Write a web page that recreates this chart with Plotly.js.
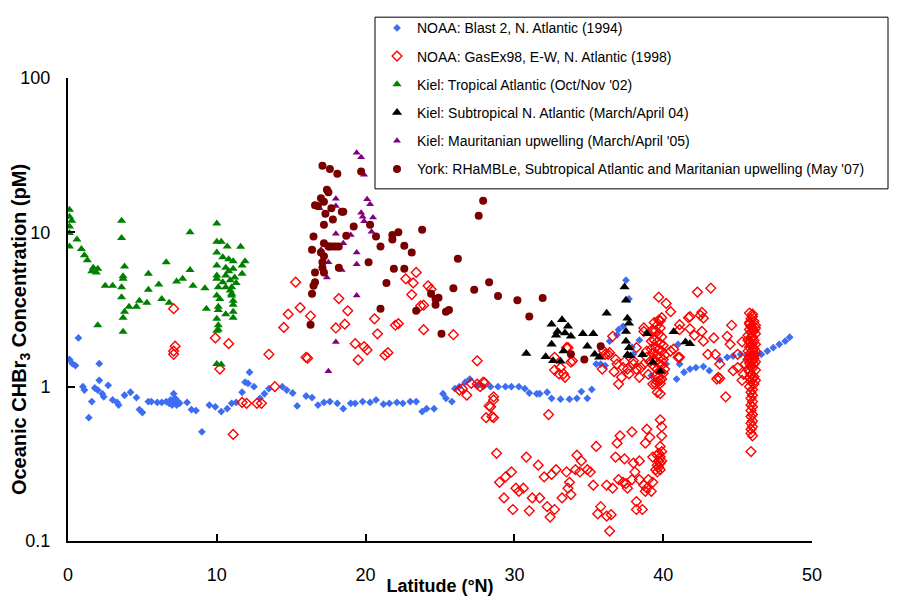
<!DOCTYPE html>
<html>
<head>
<meta charset="utf-8">
<script src="https://cdn.plot.ly/plotly-3.0.1.min.js"></script>
<style>html,body{margin:0;padding:0;background:#fff;}#chart{width:911px;height:596px;}</style>
</head>
<body>
<div id="chart"></div>
<script>
// [latitude (°N), CHBr3 (pM)]
const blast2_1994 = [[0.1,1.5],[0.3,1.41],[0.5,1.37],[0.7,2.07],[1.0,1.0],[1.1,0.95],[1.4,0.63],[1.6,0.8],[1.8,0.98],[2.1,1.41],[2.1,1.1],[2.0,0.95],[2.3,0.9],[2.4,0.86],[2.7,1.02],[3.0,0.82],[3.3,0.79],[3.4,0.76],[3.8,0.88],[4.2,0.92],[4.6,0.85],[4.8,0.71],[5.0,0.68],[5.4,0.8],[5.6,0.8],[6.0,0.79],[6.3,0.79],[6.6,0.8],[6.8,0.78],[6.9,0.82],[7.0,0.76],[7.1,0.9],[7.1,0.8],[7.2,0.84],[7.3,0.76],[7.4,0.8],[7.5,0.78],[8.0,0.79],[8.3,0.71],[8.6,0.7],[9.0,0.51],[9.5,0.76],[9.9,0.74],[10.3,0.69],[10.7,0.72],[11.0,0.78],[11.3,0.79],[11.7,0.92],[11.9,1.07],[12.1,1.05],[12.2,1.24],[12.5,1.0],[12.9,0.84],[13.2,0.9],[13.5,0.97],[14.4,1.0],[14.7,0.95],[15.1,0.91],[15.4,0.75],[16.0,0.87],[16.4,0.85],[16.8,0.76],[17.2,0.79],[17.6,0.8],[18.1,0.78],[18.5,0.72],[19.0,0.78],[19.3,0.78],[19.8,0.8],[20.3,0.79],[20.7,0.82],[21.2,0.77],[21.6,0.78],[22.1,0.79],[22.5,0.78],[23.0,0.8],[23.4,0.8],[23.8,0.69],[24.1,0.72],[24.6,0.72],[25.2,0.9],[25.4,0.84],[25.8,0.8],[26.0,0.97],[26.3,1.0],[26.7,1.07],[27.0,1.12],[27.5,1.02],[27.9,1.0],[28.4,1.0],[28.9,1.0],[29.4,1.0],[29.8,1.0],[30.3,1.0],[30.7,0.97],[31.0,0.91],[31.5,0.9],[31.7,0.9],[32.2,0.92],[32.5,0.84],[33.1,0.83],[33.7,0.83],[34.2,0.84],[34.5,0.93],[34.9,0.84],[35.2,0.96],[35.5,1.4],[35.8,1.4],[36.1,1.37],[36.4,1.97],[36.9,2.17],[37.0,2.34],[37.3,2.46],[37.5,4.9],[37.7,3.7],[37.9,1.8],[38.0,1.62],[38.4,2.0],[39.2,1.18],[39.8,1.27],[40.2,1.4],[40.9,1.12],[41.0,1.88],[41.1,1.4],[41.4,1.24],[41.8,1.3],[42.2,1.33],[42.7,1.35],[43.1,1.27],[43.8,1.49],[44.3,1.55],[44.7,1.58],[45.2,1.62],[45.6,1.6],[46.0,1.6],[46.3,1.62],[46.6,1.62],[47.0,1.7],[47.4,1.79],[47.8,1.88],[48.2,1.97],[48.5,2.09]];

const gasex98_1998 = [[7.1,3.2],[7.2,1.83],[7.1,1.7],[7.1,1.62],[9.9,2.07],[10.8,1.9],[10.2,1.3],[11.1,0.49],[13.5,1.62],[14.5,2.42],[16.0,1.55],[11.7,0.79],[12.0,0.78],[12.7,0.78],[13.0,0.78],[13.9,1.0],
[15.3,4.75],[15.6,3.25],[14.8,2.95],[16.3,2.87],[16.1,1.53],[18.2,3.72],[18.8,3.1],[18.0,2.4],[18.6,2.54],[19.3,1.9],[19.9,1.82],[20.1,1.73],[19.5,1.49],[20.8,2.2],[20.6,2.75],[21.3,1.6],[21.5,1.66],[22.0,2.5],[22.2,2.56],[22.7,5.0],[23.4,5.5],[23.2,4.7],[23.1,3.95],[24.2,4.5],[24.4,4.27],[23.7,3.34],[23.9,3.37],[23.9,2.34],[25.9,2.17],[27.5,1.47],
[26.3,0.95],[26.5,0.97],[26.8,0.88],[27.1,1.05],[27.5,1.04],[27.7,1.0],[27.9,1.07],[28.0,1.06],[28.6,0.86],[28.4,0.74],[28.3,0.75],[28.1,0.63],[28.5,0.64],[28.6,0.63],[28.6,0.82],[28.8,0.37],[30.8,0.35],[32.3,0.66],
[29.0,0.24],[29.4,0.26],[29.8,0.28],[29.3,0.19],[29.9,0.16],[30.1,0.22],[30.3,0.21],[30.6,0.22],[31.6,0.31],[31.0,0.157],[31.2,0.19],[31.7,0.19],[32.0,0.26],[32.2,0.167],[32.4,0.143],[32.7,0.16],[32.5,0.27],[32.8,0.29],[33.2,0.19],[33.5,0.28],[33.6,0.22],[33.8,0.2],[33.7,0.24],[34.1,0.29],[34.2,0.36],[34.4,0.28],[34.5,0.33],[34.9,0.29],[35.1,0.28],[35.3,0.23],[35.5,0.41],[35.8,0.167],[35.6,0.15],[36.2,0.145],[36.5,0.148],[36.4,0.116],[36.2,0.23],[36.6,0.22],[36.8,0.35],[36.9,0.43],[37.1,0.48],[37.4,0.34],[37.0,0.25],[37.3,0.24],[37.5,0.235],[37.6,0.22],[37.9,0.25],[38.1,0.28],[38.0,0.32],[38.4,0.33],[38.2,0.18],[38.6,0.16],[38.8,0.21],[38.7,0.23],[38.4,0.25],[37.9,0.51],[38.9,0.53],[39.1,0.47],[38.8,0.43],[39.3,0.35],[39.7,0.37],[39.5,0.29],[39.6,0.28],[39.8,0.29],[39.3,0.24],[39.0,0.25],[39.8,0.61],[39.9,0.55],[39.9,0.48],[39.8,0.41],[39.9,0.33],[39.2,0.21],[38.9,0.22],[38.2,0.16],[39.6,0.36],[39.7,0.33],[39.8,0.35],[39.6,0.31],[39.7,0.3],[39.9,0.38],[39.8,0.32],
[32.7,1.28],[33.0,1.21],[33.4,1.15],[33.6,1.79],[33.8,1.44],[32.7,1.55],[33.1,1.33],[33.3,1.21],[33.9,1.47],[33.5,1.79],
[36.6,2.12],[36.4,1.66],[36.9,1.4],[37.0,1.04],[37.3,1.33],[37.7,1.21],[38.0,1.47],[38.2,1.3],[38.4,1.15],[38.7,1.4],[38.7,2.4],[39.3,2.34],[39.2,1.97],[38.9,1.7],[36.0,1.7],[36.3,1.62],[36.8,1.5],[38.2,1.79],[38.0,1.4],[38.5,1.33],[38.9,1.55],[38.7,2.28],[36.1,1.62],[35.9,1.3],[36.7,1.25],[37.2,1.15],[37.6,1.3],[37.4,1.45],
[39.7,3.8],[40.2,3.46],[40.5,3.06],[39.5,1.04],[39.6,0.92],[39.8,0.9],[39.3,1.04],
[42.3,4.1],[43.2,4.35],[41.8,2.84],[42.7,2.78],[42.5,2.9],[40.7,1.75],[41.1,2.34],[41.1,1.55],[42.6,2.28],[42.7,1.97],[43.0,1.62],[43.5,1.62],[43.7,1.15],
[39.8,2.67],[41.7,2.8],[42.6,3.03],[41.1,2.52],[41.8,2.37],[42.1,2.15],[43.4,2.07],[44.6,2.5],[44.3,2.12],[44.5,1.88],[45.0,1.62],[43.8,1.4],[43.6,1.12],[43.8,1.13],[44.2,0.86],[45.0,1.33],[44.7,1.27],[45.3,1.1],[40.5,1.7],[41.0,1.55],[39.3,2.28],[39.8,1.1],[45.3,1.95],[45.5,1.4],[45.4,1.2],
[39.4,2.6],[39.6,2.5],[39.8,2.4],[39.5,2.3],[39.7,2.2],[39.9,2.1],[39.4,2.0],[39.6,1.95],[39.8,1.9],[40.0,1.85],[39.5,1.8],[39.7,1.75],[39.9,1.7],[39.3,1.65],[39.6,1.6],[39.8,1.55],[40.0,1.5],[39.5,1.45],[39.7,1.42],[39.9,1.38],[39.4,1.35],[39.6,1.3],[39.8,1.26],[40.0,1.22],[39.5,1.18],[39.7,1.15],[39.9,1.12],[39.6,1.08],[39.8,1.05],[39.4,1.5],[39.2,1.75],[39.1,1.45],[40.1,1.6],[40.1,1.3],[39.0,1.2],[39.7,2.7],[39.9,2.8],
[45.8,3.0],[46.0,2.85],[45.9,2.75],[46.1,2.65],[45.8,2.55],[46.2,2.5],[45.9,2.45],[46.0,2.4],[45.8,2.35],[46.1,2.3],[45.9,2.25],[46.2,2.2],[45.7,2.15],[46.0,2.1],[45.9,2.05],[46.1,2.0],[45.8,1.95],[46.0,1.9],[46.2,1.88],[45.9,1.85],[45.8,1.8],[46.1,1.76],[46.0,1.72],[45.7,1.7],[45.9,1.66],[46.2,1.62],[46.0,1.6],[45.8,1.56],[46.1,1.52],[45.9,1.5],[46.0,1.46],[45.8,1.42],[46.1,1.4],[45.9,1.36],[46.0,1.32],[46.2,1.28],[45.8,1.25],[45.9,1.2],[46.1,1.16],[46.0,1.12],[45.9,1.08],[46.1,1.04],[45.8,1.0],[46.0,0.96],[45.9,0.92],[46.0,0.88],[45.9,0.84],[46.0,0.8],[45.9,0.76],[46.0,0.74],[45.9,0.7],[46.0,0.66],[45.9,0.64],[46.0,0.6],[45.9,0.58],[46.0,0.55],[45.9,0.53],[45.9,0.5],[46.0,0.48],[45.9,0.38],[46.0,2.95],[45.8,2.6],[46.2,2.4],[45.7,2.0],[46.2,1.7],[45.7,1.5],[46.2,1.45],[45.7,1.3],[46.2,1.1],[45.8,1.15]];

const kielTropical_02 = [[0.1,14],[0.1,12.6],[0.25,11.9],[0.1,10.9],[0.1,9.9],[0.1,8.1],[0.6,9.0],[0.9,7.8],[1.1,7.1],[1.3,6.6],[1.7,5.9],[1.6,5.6],[2.0,5.8],[1.9,5.5],[2.5,4.5],[3.0,4.5],[3.6,11.9],[3.6,9.2],[3.8,6.0],[3.7,5.2],[3.7,5.0],[3.6,4.4],[3.6,3.8],[3.8,3.06],[3.7,2.8],[3.7,2.27],[2.0,2.5],[4.1,3.3],[4.6,3.3],[4.8,3.6],[5.3,3.5],[5.4,4.25],[5.4,5.4],[6.1,4.6],[6.3,3.7],[6.6,6.4],[6.8,3.5],[7.3,4.8],[7.7,5.0],[8.2,5.7],[8.4,4.5],[8.2,10.0],[9.2,4.35],[9.3,3.2],[10.0,11.4],[10.0,8.7],[10.3,8.7],[10.0,7.4],[10.7,8.1],[11.6,8.05],[10.4,6.9],[10.8,6.7],[11.1,6.5],[11.9,6.5],[10.0,6.1],[10.6,5.9],[11.1,5.8],[11.7,6.1],[10.0,5.25],[10.6,5.25],[11.7,5.4],[10.0,5.0],[10.4,4.75],[10.9,4.9],[11.3,4.7],[10.1,4.4],[10.6,4.4],[11.0,4.4],[10.0,3.9],[10.2,3.7],[11.0,4.0],[11.1,3.6],[10.1,3.3],[10.1,3.14],[11.1,3.4],[10.6,2.95],[11.1,3.06],[11.1,2.8],[10.0,2.75],[10.1,2.5],[10.1,2.35],[10.0,2.3],[10.0,1.4],[10.3,1.39],[10.8,5.6],[11.2,5.1],[10.9,4.2],[11.0,3.9]];

const kielSubtropical_04 = [[30.8,1.64],[32.5,2.54],[33.2,2.71],[33.6,2.46],[32.9,2.28],[32.8,2.15],[33.4,2.23],[33.8,2.12],[32.5,1.88],[33.3,1.7],[32.1,1.56],[32.6,1.47],[33.1,1.46],[34.6,2.2],[35.3,2.2],[34.9,1.83],[35.4,1.62],[35.7,1.55],[36.2,2.99],[37.4,4.42],[37.5,3.63],[37.6,2.78],[37.7,2.58],[37.5,2.28],[37.5,1.97],[37.7,1.79],[37.6,1.61],[37.8,1.58],[38.6,1.61],[38.9,2.2],[39.3,1.44],[39.8,1.26],[40.7,2.27],[41.5,1.95],[41.8,1.9]];

const kielMauritanian_05 = [[19.4,32.8],[19.7,30.6],[19.9,23.6],[18.0,16.5],[18.0,14.8],[16.9,14.3],[20.1,16.4],[20.3,15.2],[19.7,13.4],[19.8,12.6],[20.5,12.5],[19.9,11.8],[20.4,10.1],[18.0,9.8],[19.0,9.6],[18.5,8.5],[17.0,7.7],[19.4,7.4],[17.5,6.4],[19.4,6.2],[18.4,5.7],[17.4,5.1],[19.4,3.9],[18.0,1.95],[17.5,1.26]];

const yorkRhamble_07 = [[17.1,27],[17.6,25.7],[18.1,24],[19.7,24.8],[17.4,18.9],[17.5,18.2],[17.0,16.6],[17.2,15.8],[16.6,15],[16.8,14.8],[17.7,14.3],[17.3,13.2],[18.4,13.6],[18.5,13.6],[17.8,12.1],[17.2,11.2],[19.2,10.9],[18.7,9.5],[20.3,11.2],[20.7,9.4],[21.8,9.6],[22.2,10.0],[21.8,9.0],[21.0,8.1],[23.8,10.4],[16.5,9.4],[16.4,7.7],[17.2,8.5],[17.5,8.1],[17.6,8.1],[17.8,8.1],[18.0,8.1],[18.2,8.1],[17.0,7.4],[17.2,7.0],[17.1,6.4],[17.1,5.9],[17.2,5.5],[16.6,5.5],[16.6,4.75],[16.5,4.5],[16.4,4.0],[18.2,5.9],[20.2,6.4],[22.6,8.2],[23.1,7.4],[26.2,6.75],[21.9,5.8],[22.6,5.8],[21.4,4.7],[24.4,4.0],[24.7,3.7],[24.9,3.77],[24.7,3.4],[25.9,4.35],[27.3,4.25],[28.3,4.75],[27.9,16],[27.6,12.8],[21.0,3.2],[23.4,3.1],[25.4,3.06],[25.6,3.14],[25.1,2.2],[16.3,2.52],[28.9,3.87],[30.2,3.63],[31.9,3.76],[31.0,2.85],[33.8,1.62],[34.7,1.5],[35.8,1.83]];

const seriesNames = [
  "NOAA: Blast 2, N. Atlantic (1994)",
  "NOAA: GasEx98, E-W, N. Atlantic (1998)",
  "Kiel: Tropical Atlantic (Oct/Nov '02)",
  "Kiel: Subtropical N. Atlantic (March/April 04)",
  "Kiel: Mauritanian upwelling (March/April '05)",
  "York: RHaMBLe, Subtropical Atlantic and Maritanian upwelling (May '07)"
];
const xTicks = [0, 10, 20, 30, 40, 50];
const yTicks = [0.1, 1, 10, 100];
const yTickText = ["0.1", "1", "10", "100"];
const xTitle = "Latitude (°N)";
const yTitle = "Oceanic CHBr<sub>3</sub> Concentration (pM)";

const datasets = [blast2_1994, gasex98_1998, kielTropical_02, kielSubtropical_04, kielMauritanian_05, yorkRhamble_07];
const markers = [
  {symbol: 'diamond', size: 6, color: '#3D6EF2', line: {width: 0}},
  {symbol: 'diamond-open', size: 7.5, color: '#FF0000', line: {color: '#FF0000', width: 1.4}},
  {symbol: 'triangle-up', size: 8, color: '#008000', line: {width: 0}},
  {symbol: 'triangle-up', size: 9, color: '#000000', line: {width: 0}},
  {symbol: 'triangle-up', size: 7, color: '#800080', line: {width: 0}},
  {symbol: 'circle', size: 8, color: '#7A0000', line: {width: 0}}
];

const traces = datasets.map((d, i) => ({
  type: 'scatter', mode: 'markers',
  x: d.map(p => p[0]), y: d.map(p => p[1]),
  name: seriesNames[i], legendgroup: 'g' + i,
  marker: markers[i],
  hoverinfo: 'x+y+name'
}));

const L = 68, R = 812, T = 69, B = 541;
const px = v => (v - L) / (R - L);
const py = v => (B - v) / (B - T);

const layout = {
  width: 911, height: 596,
  margin: {l: 68, r: 99, t: 69, b: 55},
  paper_bgcolor: '#fff', plot_bgcolor: '#fff',
  font: {family: 'Liberation Sans, Arial, sans-serif', color: '#000'},
  showlegend: true,
  legend: {
    x: px(377), y: py(2), xanchor: 'left', yanchor: 'top',
    bgcolor: 'rgba(0,0,0,0)', borderwidth: 0,
    font: {size: 14, family: 'Liberation Sans, Arial, sans-serif'},
    traceorder: 'grouped', tracegroupgap: 7
  },
  shapes: [{
    type: 'rect', xref: 'paper', yref: 'paper',
    x0: px(375), x1: px(888), y0: py(182), y1: py(7),
    line: {color: '#000', width: 1}, fillcolor: 'rgba(0,0,0,0)', layer: 'below'
  }],
  annotations: [{
    text: '<b>' + yTitle + '</b>', textangle: -90, showarrow: false,
    xref: 'paper', yref: 'paper', x: px(20), y: py(326), xanchor: 'center', yanchor: 'middle',
    font: {size: 20, family: 'Liberation Sans, Arial, sans-serif', color: '#000'}
  }],
  xaxis: {
    range: [0, 50], tickvals: xTicks, ticks: 'inside', ticklen: 7, tickwidth: 2, tickcolor: '#000',
    showline: true, linewidth: 2, linecolor: '#000', showgrid: false, zeroline: false,
    tickfont: {size: 18}, ticklabelstandoff: 16,
    title: {text: '<b>' + xTitle + '</b>', font: {size: 18}}
  },
  yaxis: {
    type: 'log', range: [-1, 2], tickvals: yTicks, ticktext: yTickText,
    ticks: 'inside', ticklen: 7, tickwidth: 2, tickcolor: '#000',
    showline: true, linewidth: 2, linecolor: '#000', showgrid: false, zeroline: false,
    tickfont: {size: 18}, ticklabelstandoff: 12
  }
};

Plotly.newPlot('chart', traces, layout, {displayModeBar: false, staticPlot: true});
</script>
</body>
</html>
